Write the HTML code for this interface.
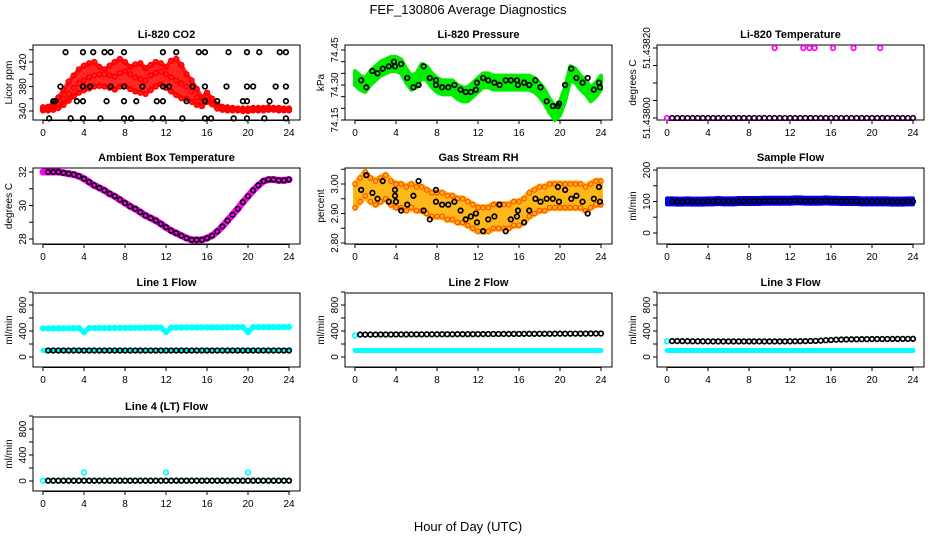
<!DOCTYPE html>
<html><head><meta charset="utf-8"><style>
body{margin:0;background:#fff}
svg{display:block;font-family:"Liberation Sans",sans-serif}
</style></head><body>
<svg id="c" width="936" height="540" viewBox="0 0 936 540">
<text x="468" y="14" text-anchor="middle" font-size="13">FEF_130806  Average Diagnostics</text>
<text x="468" y="531" text-anchor="middle" font-size="13">Hour of Day (UTC)</text>
</svg>
<script>
const hours=[0,0.5,1,1.5,2,2.5,3,3.5,4,4.5,5,5.5,6,6.5,7,7.5,8,8.5,9,9.5,10,10.5,11,11.5,12,12.5,13,13.5,14,14.5,15,15.5,16,16.5,17,17.5,18,18.5,19,19.5,20,20.5,21,21.5,22,22.5,23,23.5,24];
const co2Mid=[344,343,346,352,360,368,378,385,390,395,398,400,400,398,396,402,405,400,395,392,390,398,402,404,400,395,390,385,380,372,362,355,365,360,348,345,344,343,343,342,342,343,343,343,344,344,343,343,343];
const co2Upper=[346,347,352,362,374,388,398,408,414,418,420,412,408,414,420,425,420,412,416,418,410,415,420,418,412,422,425,415,400,390,376,362,370,360,351,347,346,345,344,344,344,345,345,345,346,345,345,344,344];
const co2Lower=[341,341,342,345,350,357,364,370,374,377,380,381,380,378,375,380,381,376,372,370,368,374,380,384,378,372,366,361,360,355,350,348,355,351,344,342,341,341,341,340,340,341,341,341,342,342,341,341,341];
const co2BlackX=[2.2,3.9,4.9,6.0,6.6,7.9,11.7,13.0,15.2,15.8,18.1,19.9,21.1,23.1,23.7,1.7,3.9,4.6,6.6,7.9,9.7,11.7,12.3,14.6,15.8,17.9,19.9,20.5,22.7,23.7,1.0,1.2,3.3,3.9,6.2,7.9,9.1,11.1,11.7,14.0,15.8,17.0,19.5,19.9,22.1,23.7,0.6,2.7,3.9,5.6,7.9,8.6,10.7,11.7,13.6,15.8,16.4,18.6,19.9,21.6,23.7];
const co2BlackY=[436,436,436,436,436,436,436,436,436,436,436,436,436,436,436,380,380,380,380,380,380,380,380,380,380,380,380,380,380,380,356,356,356,356,356,356,356,356,356,356,356,356,356,356,356,356,328,328,328,328,328,328,328,328,328,328,328,328,328,328,328];
const presMid=[74.33,74.31,74.30,74.33,74.35,74.37,74.38,74.39,74.39,74.38,74.34,74.31,74.32,74.36,74.35,74.32,74.30,74.29,74.29,74.29,74.27,74.26,74.26,74.28,74.30,74.32,74.32,74.31,74.31,74.31,74.31,74.31,74.31,74.31,74.31,74.30,74.28,74.25,74.21,74.18,74.20,74.26,74.35,74.34,74.31,74.29,74.26,74.28,74.31];
const presBlackX=[0.6,1.1,1.7,2.2,2.7,3.3,3.8,3.9,4.5,5.1,5.7,6.2,6.7,7.3,7.9,7.9,8.5,9.1,9.7,10.3,10.8,11.3,11.8,11.9,12.5,13.0,13.6,14.1,14.7,15.2,15.8,15.9,16.5,17.0,17.6,18.1,18.7,19.3,19.8,19.9,20.5,21.1,21.6,22.2,22.7,23.3,23.8,23.9];
const presBlackY=[74.32,74.29,74.36,74.35,74.37,74.38,74.40,74.38,74.39,74.33,74.29,74.30,74.38,74.33,74.30,74.32,74.29,74.29,74.30,74.28,74.27,74.27,74.28,74.31,74.33,74.32,74.31,74.30,74.32,74.32,74.32,74.30,74.31,74.30,74.32,74.29,74.23,74.21,74.21,74.22,74.30,74.37,74.33,74.31,74.33,74.28,74.31,74.29];
const tempMagX=[10.5,13.3,13.9,14.4,16.2,18.2,20.8];
const tempMagY=[51.4382,51.4382,51.4382,51.4382,51.4382,51.4382,51.4382];
const tempBase=[51.438,51.438,51.438,51.438,51.438,51.438,51.438,51.438,51.438,51.438,51.438,51.438,51.438,51.438,51.438,51.438,51.438,51.438,51.438,51.438,51.438,51.438,51.438,51.438,51.438,51.438,51.438,51.438,51.438,51.438,51.438,51.438,51.438,51.438,51.438,51.438,51.438,51.438,51.438,51.438,51.438,51.438,51.438,51.438,51.438,51.438,51.438,51.438,51.438];
const ambient=[32,32,32,32,31.95,31.9,31.85,31.75,31.6,31.4,31.2,31.05,30.9,30.7,30.55,30.35,30.15,29.95,29.8,29.6,29.4,29.25,29.1,28.9,28.7,28.5,28.35,28.2,28.05,27.95,27.95,27.95,28.05,28.2,28.45,28.75,29.1,29.45,29.8,30.2,30.55,30.9,31.2,31.45,31.55,31.55,31.5,31.5,31.55];
const rhMid=[2.96,2.98,3.00,2.98,2.97,2.98,2.99,2.97,2.96,2.96,2.95,2.96,2.95,2.95,2.94,2.93,2.93,2.93,2.92,2.92,2.91,2.91,2.90,2.89,2.88,2.88,2.88,2.89,2.89,2.89,2.89,2.90,2.90,2.91,2.93,2.94,2.95,2.95,2.96,2.96,2.96,2.96,2.96,2.96,2.96,2.95,2.96,2.97,2.97];
const rhBlackX=[0.6,1.1,1.7,2.2,2.7,3.3,3.9,3.9,4.0,4.5,5.1,5.7,6.2,6.7,7.3,7.9,7.9,8.5,9.1,9.7,10.3,10.8,11.3,11.8,11.9,12.5,13.0,13.6,14.1,14.7,15.2,15.8,15.9,16.5,17.0,17.6,18.1,18.7,19.3,19.8,19.9,20.5,21.1,21.6,22.2,22.7,23.3,23.8,23.9];
const rhBlackY=[2.98,3.03,2.97,2.95,3.01,2.94,2.98,2.96,2.94,2.91,2.93,2.96,3.01,2.91,2.88,2.98,2.94,2.93,2.93,2.94,2.91,2.88,2.89,2.90,2.87,2.84,2.88,2.89,2.93,2.84,2.88,2.89,2.91,2.87,2.91,2.95,2.94,2.95,2.95,2.99,2.94,2.98,2.95,2.96,2.94,2.90,2.95,2.99,2.94];
const sampleFlow=[100,100,99,99,100,99,99,99,100,100,101,100,100,100,101,101,101,101,101,102,102,102,102,102,102,103,103,102,102,102,102,103,102,102,101,101,101,101,100,100,100,100,100,100,99,99,99,100,100];
const line1Cyan=[440,440,440,441,442,442,443,443,385,444,445,445,446,446,447,447,448,448,449,449,450,450,451,451,385,452,452,453,453,454,454,455,455,456,456,457,457,458,458,458,385,459,459,460,460,460,461,461,461];
const line1Black=[100,100,100,100,100,100,100,100,100,100,100,100,100,100,100,100,100,100,100,100,100,100,100,100,100,100,100,100,100,100,100,100,100,100,100,100,100,100,100,100,100,100,100,100,100,100,100,100,100];
const line2Black=[330,345,345,345,345,346,346,346,347,347,347,348,348,348,349,349,349,350,350,350,351,351,352,352,352,353,353,354,354,355,355,356,356,357,357,357,358,358,358,359,359,359,360,360,360,360,361,361,361];
const line2Cyan=[100,100,100,100,100,100,100,100,100,100,100,100,100,100,100,100,100,100,100,100,100,100,100,100,100,100,100,100,100,100,100,100,100,100,100,100,100,100,100,100,100,100,100,100,100,100,100,100,100];
const line3Black=[240,245,245,244,243,242,242,241,241,240,240,240,240,240,240,240,240,240,240,240,240,240,240,240,241,242,243,244,246,248,252,258,262,266,268,270,272,273,274,275,276,276,277,277,278,278,279,279,280];
const line3Cyan=[100,100,100,100,100,100,100,100,100,100,100,100,100,100,100,100,100,100,100,100,100,100,100,100,100,100,100,100,100,100,100,100,100,100,100,100,100,100,100,100,100,100,100,100,100,100,100,100,100];
const line4Black=[5,5,5,5,5,5,5,5,5,5,5,5,5,5,5,5,5,5,5,5,5,5,5,5,5,5,5,5,5,5,5,5,5,5,5,5,5,5,5,5,5,5,5,5,5,5,5,5,5];
const line4Cyan=[5,5,5,5,5,5,5,5,130,5,5,5,5,5,5,5,5,5,5,5,5,5,5,5,130,5,5,5,5,5,5,5,5,5,5,5,5,5,5,5,130,5,5,5,5,5,5,5,5];
const xTicks=[0,4,8,12,16,20,24];

const NS="http://www.w3.org/2000/svg";
const svg=document.getElementById('c');
function mk(tag,attrs,parent){const e=document.createElementNS(NS,tag);for(const k in attrs)e.setAttribute(k,attrs[k]);(parent||svg).appendChild(e);return e;}

const colL=[33,345,657], rowT=[45,168,293,417], rowB=[120,244,367,491], W=267;
function makePanel(name,col,row,title,ylab,v1,p1,v2,p2,ticks,labels,fmt){
  const g=mk('g',{});
  
  
  const L=colL[col],T=rowT[row],B=rowB[row];
  const P={g,L,T,B,
    x:h=>L+10+h*246/24,
    y:v=>p1+(v-v1)*(p2-p1)/(v2-v1)};
  const box=mk('rect',{x:L,y:T,width:W,height:B-T,fill:'none',stroke:'#000','stroke-width':1},g);
  
  
  const t=mk('text',{x:L+W/2,y:T-7,'text-anchor':'middle','font-size':11,'font-weight':'bold'},g);
  t.textContent=title;
  
  
  const yl=mk('text',{transform:`translate(${L-21},${(T+B)/2}) rotate(-90)`,'text-anchor':'middle','font-size':10},g);
  yl.textContent=ylab;
  
  
  xTicks.forEach(h=>{
    mk('line',{x1:P.x(h),x2:P.x(h),y1:B,y2:B+4,stroke:'#000'},g);
    const tl=mk('text',{x:P.x(h),y:B+16,'text-anchor':'middle','font-size':10},g);
    tl.textContent=h;
    
    
  });
  mk('line',{x1:P.x(0),x2:P.x(24),y1:B+0.5,y2:B+0.5,stroke:'#000'},g);
  ticks.forEach(v=>{
    const yy=P.y(v);
    mk('line',{x1:L-4,x2:L,y1:yy,y2:yy,stroke:'#000'},g);
  });
  labels.forEach(v=>{
    const yy=P.y(v);
    const tl=mk('text',{transform:`translate(${L-7},${yy}) rotate(-90)`,'text-anchor':'middle','font-size':10},g);
    tl.textContent=fmt(v);
    
    
  });
  return P;
}
function pts(P,xs,ys,color,name,r,sw){
  xs.forEach((h,i)=>{
    const c=mk('circle',{cx:P.x(h),cy:P.y(ys[i]),r:r||2.3,fill:'none',stroke:color,'stroke-width':sw||1.7},P.g);
    
    
  });
}
function band(P,xs,lo,hi,color,name,op){
  let d='M'+xs.map((h,i)=>P.x(h)+','+P.y(hi[i])).join('L')+'L'+xs.map((h,i)=>P.x(h)+','+P.y(lo[i])).reverse().join('L')+'Z';
  const p=mk('path',{d,fill:color,stroke:color,'stroke-width':4,'stroke-linejoin':'round','fill-opacity':op,'stroke-opacity':op},P.g);
  
  
}
function line(P,xs,ys,color,w,name){
  const p=mk('polyline',{points:xs.map((h,i)=>P.x(h)+','+P.y(ys[i])).join(' '),fill:'none',stroke:color,'stroke-width':w,'stroke-linejoin':'round','stroke-linecap':'round'},P.g);
  
  
}
const f0=v=>String(v), f2=v=>v.toFixed(2), f5=v=>v.toFixed(5);
const dotsH=hours.filter((h,i)=>i>0);

// CO2
let P=makePanel('co2-panel',0,0,'Li-820 CO2','Licor ppm',340,111,420,62,[340,360,380,400,420,440],[340,380,420],f0);
band(P,hours,co2Lower,co2Upper,'#ff0000','co2-band',0.85);
pts(P,hours,co2Upper,'#ff0000','co2-point');
pts(P,hours,co2Mid,'#ff0000','co2-point');
pts(P,hours,co2Lower,'#ff0000','co2-point');
pts(P,co2BlackX,co2BlackY,'#000','co2-avg-point');

// Pressure
P=makePanel('pressure-panel',1,0,'Li-820 Pressure','kPa',74.15,120,74.45,50,[74.15,74.2,74.25,74.3,74.35,74.4,74.45],[74.15,74.30,74.45],f2);
band(P,hours,presMid.map(v=>v-0.03),presMid.map(v=>v+0.03),'#00ee00','pressure-band',1);
pts(P,presBlackX,presBlackY,'#000','pressure-avg-point');

// Temperature
P=makePanel('li820-temp-panel',2,0,'Li-820 Temperature','degrees C',51.438,118,51.4382,48,[51.438,51.43805,51.4381,51.43815,51.4382],[51.438,51.4382],f5);
pts(P,hours,tempBase,'#ff00ff','temp-point');
pts(P,tempMagX,tempMagY,'#ff00ff','temp-point');
pts(P,dotsH,tempBase.slice(1),'#000','temp-avg-point',2.3,1.4);

// Ambient
P=makePanel('ambient-panel',0,1,'Ambient Box Temperature','degrees C',28,239,32,172,[28,29,30,31,32],[28,30,32],f0);
line(P,hours,ambient,'#ff00ff',7,'ambient-line');
pts(P,dotsH,ambient.slice(1),'#000','ambient-avg-point',2.3,1.6);

// RH
P=makePanel('rh-panel',1,1,'Gas Stream RH','percent',2.8,243,3.0,184,[2.8,2.85,2.9,2.95,3.0,3.05],[2.8,2.9,3.0],f2);
band(P,hours,rhMid.map(v=>v-0.045),rhMid.map(v=>v+0.045),'#ffb000','rh-band',0.9);
pts(P,hours,rhMid.map(v=>v+0.04),'#ff4000','rh-point',2.3,1);
pts(P,hours,rhMid.map(v=>v-0.04),'#ff4000','rh-point',2.3,1);
pts(P,rhBlackX,rhBlackY,'#000','rh-avg-point');

// Sample flow
P=makePanel('sample-flow-panel',2,1,'Sample Flow','ml/min',0,233,200,170,[0,50,100,150,200],[0,100,200],f0);
band(P,hours,sampleFlow.map(v=>v-9),sampleFlow.map(v=>v+10),'#0000ee','sample-flow-band',1);
pts(P,dotsH,sampleFlow.slice(1),'#000','sample-flow-point');

const flowTicks=[0,200,400,600,800,1000], flowLabels=[0,400,800];
// Line1
P=makePanel('line1-panel',0,2,'Line 1 Flow','ml/min',0,357,800,305,flowTicks,flowLabels,f0);
line(P,hours,line1Cyan,'#00ffff',5,'line1-cyan-line');
pts(P,hours,line1Cyan,'#00ffff','line1-cyan-point');
line(P,hours,line1Black,'#00ffff',5,'line1-cyan-low');
pts(P,dotsH,line1Black.slice(1),'#000','line1-black-point');
// Line2
P=makePanel('line2-panel',1,2,'Line 2 Flow','ml/min',0,357,800,305,flowTicks,flowLabels,f0);
line(P,hours,line2Cyan,'#00ffff',5,'line2-cyan-line');
pts(P,[0],[330],'#00ffff','line2-cyan-point');
pts(P,dotsH,line2Black.slice(1),'#000','line2-black-point');
// Line3
P=makePanel('line3-panel',2,2,'Line 3 Flow','ml/min',0,357,800,305,flowTicks,flowLabels,f0);
line(P,hours,line3Cyan,'#00ffff',5,'line3-cyan-line');
pts(P,[0],[240],'#00ffff','line3-cyan-point');
pts(P,dotsH,line3Black.slice(1),'#000','line3-black-point');
// Line4
P=makePanel('line4-panel',0,3,'Line 4 (LT) Flow','ml/min',0,481,800,429,flowTicks,flowLabels,f0);
pts(P,hours,line4Cyan,'#00ffff','line4-cyan-point');
pts(P,dotsH,line4Black.slice(1),'#000','line4-black-point');
</script>
</body></html>
